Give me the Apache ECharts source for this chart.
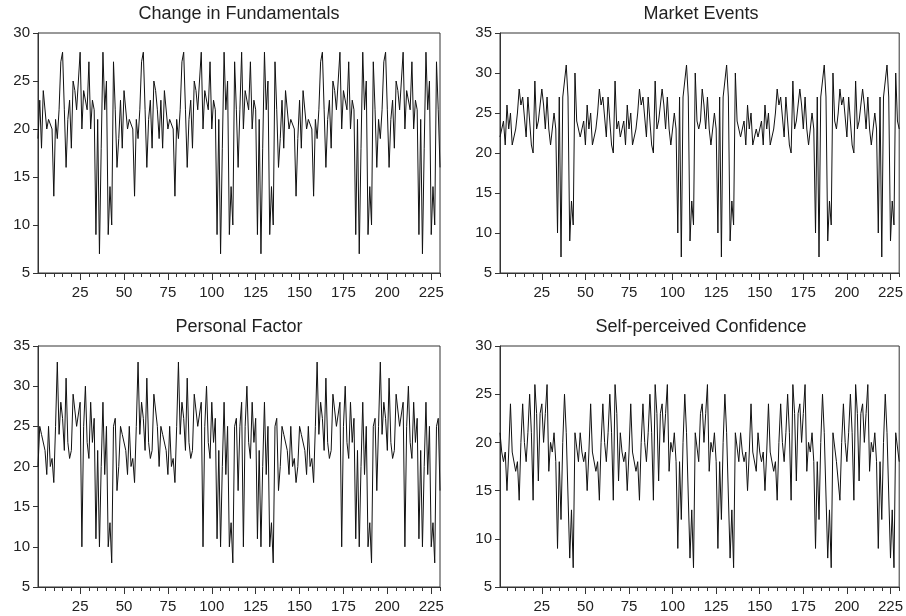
<!DOCTYPE html>
<html>
<head>
<meta charset="utf-8">
<title>Factors</title>
<script src="https://cdn.jsdelivr.net/npm/echarts@6/dist/echarts.min.js"></script>
<style>
  html, body { margin: 0; padding: 0; background: #fff; }
  #chart { width: 906px; height: 616px; }
</style>
</head>
<body>
<div id="chart"></div>
<script>
const fundamentals = [
  19,23,18,24,24,20,21,21,20,13,21,19,22,27,28,22,16,21,23,18,25,24,22,
  22,28,20,24,24,22,27,20,23,22,9,21,7,18,28,22,25,9,14,10,27,22,16,
  19,23,18,24,24,20,21,21,20,13,21,19,22,27,28,22,16,21,23,18,25,24,22,
  19,23,18,24,24,20,21,21,20,13,21,19,22,27,28,22,16,21,23,18,25,24,22,
  22,28,20,24,24,22,27,20,23,22,9,21,7,18,28,22,25,9,14,10,27,22,16,
  22,28,20,24,24,22,27,20,23,22,9,21,7,18,28,22,25,9,14,10,27,22,16,
  19,23,18,24,24,20,21,21,20,13,
  19,23,18,24,24,20,21,21,20,13,21,19,22,27,28,22,16,21,23,18,25,24,22,
  22,28,20,24,24,22,27,20,23,22,9,21,7,18,28,22,25,9,14,10,27,22,16,
  21,19,22,27,28,22,16,21,23,18,25,24,22,
  22,28,20,24,24,22,27,20,23,22,9,21,7,18,28,22,25,9,14,10,27,22,16
];
const marketEvents = [
  22,22,24,21,26,23,25,21,22,23,25,28,26,27,27,22,27,27,21,20,29,23,24,
  24,28,26,23,27,23,21,23,25,23,10,27,7,27,27,31,27,9,14,11,30,24,23,
  22,22,24,21,26,23,25,21,22,23,25,28,26,27,27,22,27,27,21,20,29,23,24,
  22,22,24,21,26,23,25,21,22,23,25,28,26,27,27,22,27,27,21,20,29,23,24,
  24,28,26,23,27,23,21,23,25,23,10,27,7,27,27,31,27,9,14,11,30,24,23,
  24,28,26,23,27,23,21,23,25,23,10,27,7,27,27,31,27,9,14,11,30,24,23,
  22,22,24,21,26,23,25,21,22,23,
  22,22,24,21,26,23,25,21,22,23,25,28,26,27,27,22,27,27,21,20,29,23,24,
  24,28,26,23,27,23,21,23,25,23,10,27,7,27,27,31,27,9,14,11,30,24,23,
  25,28,26,27,27,22,27,27,21,20,29,23,24,
  24,28,26,23,27,23,21,23,25,23,10,27,7,27,27,31,27,9,14,11,30,24,23
];
const personalFactor = [
  20,25,24,24,22,19,25,20,21,18,25,33,24,28,26,22,31,23,21,22,29,29,25,
  25,28,10,25,30,23,21,28,23,26,11,22,10,20,28,19,25,10,13,8,25,26,17,
  20,25,24,24,22,19,25,20,21,18,25,33,24,28,26,22,31,23,21,22,29,29,25,
  20,25,24,24,22,19,25,20,21,18,25,33,24,28,26,22,31,23,21,22,29,29,25,
  25,28,10,25,30,23,21,28,23,26,11,22,10,20,28,19,25,10,13,8,25,26,17,
  25,28,10,25,30,23,21,28,23,26,11,22,10,20,28,19,25,10,13,8,25,26,17,
  20,25,24,24,22,19,25,20,21,18,
  20,25,24,24,22,19,25,20,21,18,25,33,24,28,26,22,31,23,21,22,29,29,25,
  25,28,10,25,30,23,21,28,23,26,11,22,10,20,28,19,25,10,13,8,25,26,17,
  25,33,24,28,26,22,31,23,21,22,29,29,25,
  25,28,10,25,30,23,21,28,23,26,11,22,10,20,28,19,25,10,13,8,25,26,17
];
const confidence = [
  21,19,18,19,15,19,24,19,19,17,18,14,20,24,20,18,21,25,21,14,26,23,16,
  23,24,20,23,26,17,20,19,21,18,9,18,12,20,25,21,21,8,13,7,21,21,18,
  21,19,18,19,15,19,24,19,19,17,18,14,20,24,20,18,21,25,21,14,26,23,16,
  21,19,18,19,15,19,24,19,19,17,18,14,20,24,20,18,21,25,21,14,26,23,16,
  23,24,20,23,26,17,20,19,21,18,9,18,12,20,25,21,21,8,13,7,21,21,18,
  23,24,20,23,26,17,20,19,21,18,9,18,12,20,25,21,21,8,13,7,21,21,18,
  21,19,18,19,15,19,24,19,19,17,
  21,19,18,19,15,19,24,19,19,17,18,14,20,24,20,18,21,25,21,14,26,23,16,
  23,24,20,23,26,17,20,19,21,18,9,18,12,20,25,21,21,8,13,7,21,21,18,
  18,14,20,24,20,18,21,25,21,14,26,23,16,
  23,24,20,23,26,17,20,19,21,18,9,18,12,20,25,21,21,8,13,7,21,21,18
];

const titles = ['Change in Fundamentals', 'Market Events', 'Personal Factor', 'Self-perceived Confidence'];
const seriesData = [fundamentals, marketEvents, personalFactor, confidence];
const yMax = [30, 35, 35, 30];
const labelTicks = [25, 50, 75, 100, 125, 150, 175, 200, 225];
const smallTicks = [5, 10, 15, 20, 25, 30, 35, 40, 45, 50, 55, 60, 65, 70, 75, 80, 85, 90, 95, 100,
  105, 110, 115, 120, 125, 130, 135, 140, 145, 150, 155, 160, 165, 170, 175, 180, 185, 190, 195, 200,
  205, 210, 215, 220, 225, 230];

const grids = [
  { left: 38, top: 33, width: 402, height: 240 },
  { left: 500, top: 33, width: 402, height: 240 },
  { left: 38, top: 346, width: 402, height: 241 },
  { left: 500, top: 346, width: 402, height: 241 }
];

const font = 'Liberation Sans, Arial, Helvetica, sans-serif';
const ink = '#222';
const frame = '#333';

const option = {
  animation: false,
  backgroundColor: '#fff',
  title: titles.map((t, i) => ({
    text: t,
    left: grids[i].left + grids[i].width / 2,
    top: grids[i].top - 28,
    textAlign: 'center',
    padding: 0,
    textStyle: { fontFamily: font, fontSize: 18, fontWeight: 'normal', color: ink }
  })),
  grid: grids.map(g => ({ ...g, show: true, borderColor: frame, borderWidth: 1, containLabel: false })),
  xAxis: [],
  yAxis: [],
  series: []
};

grids.forEach((g, i) => {
  // labelled axis with the longer ticks
  option.xAxis.push({
    gridIndex: i,
    type: 'value',
    min: 1,
    max: 230,
    axisLine: { show: true, lineStyle: { color: frame, width: 1 } },
    axisTick: { show: true, customValues: labelTicks, length: 7, lineStyle: { color: frame } },
    axisLabel: { customValues: labelTicks, margin: 12, fontFamily: font, fontSize: 15, color: ink },
    splitLine: { show: false }
  });
  // short ticks every 5 observations
  option.xAxis.push({
    gridIndex: i,
    type: 'value',
    position: 'bottom',
    min: 1,
    max: 230,
    axisLine: { show: false },
    axisTick: { show: true, customValues: smallTicks, length: 4, lineStyle: { color: frame } },
    axisLabel: { show: false },
    splitLine: { show: false }
  });
  option.yAxis.push({
    gridIndex: i,
    type: 'value',
    min: 5,
    max: yMax[i],
    interval: 5,
    axisLine: { show: true, lineStyle: { color: frame, width: 1 } },
    axisTick: { show: true, length: 5, lineStyle: { color: frame } },
    axisLabel: { margin: 8, fontFamily: font, fontSize: 15, color: ink },
    splitLine: { show: false }
  });
  option.series.push({
    type: 'line',
    xAxisIndex: i * 2,
    yAxisIndex: i,
    data: seriesData[i].map((v, k) => [k + 1, v]),
    symbol: 'none',
    lineStyle: { color: '#111', width: 1 }
  });
});

const chart = echarts.init(document.getElementById('chart'));
chart.setOption(option);
window.addEventListener('resize', () => chart.resize());
</script>
</body>
</html>
